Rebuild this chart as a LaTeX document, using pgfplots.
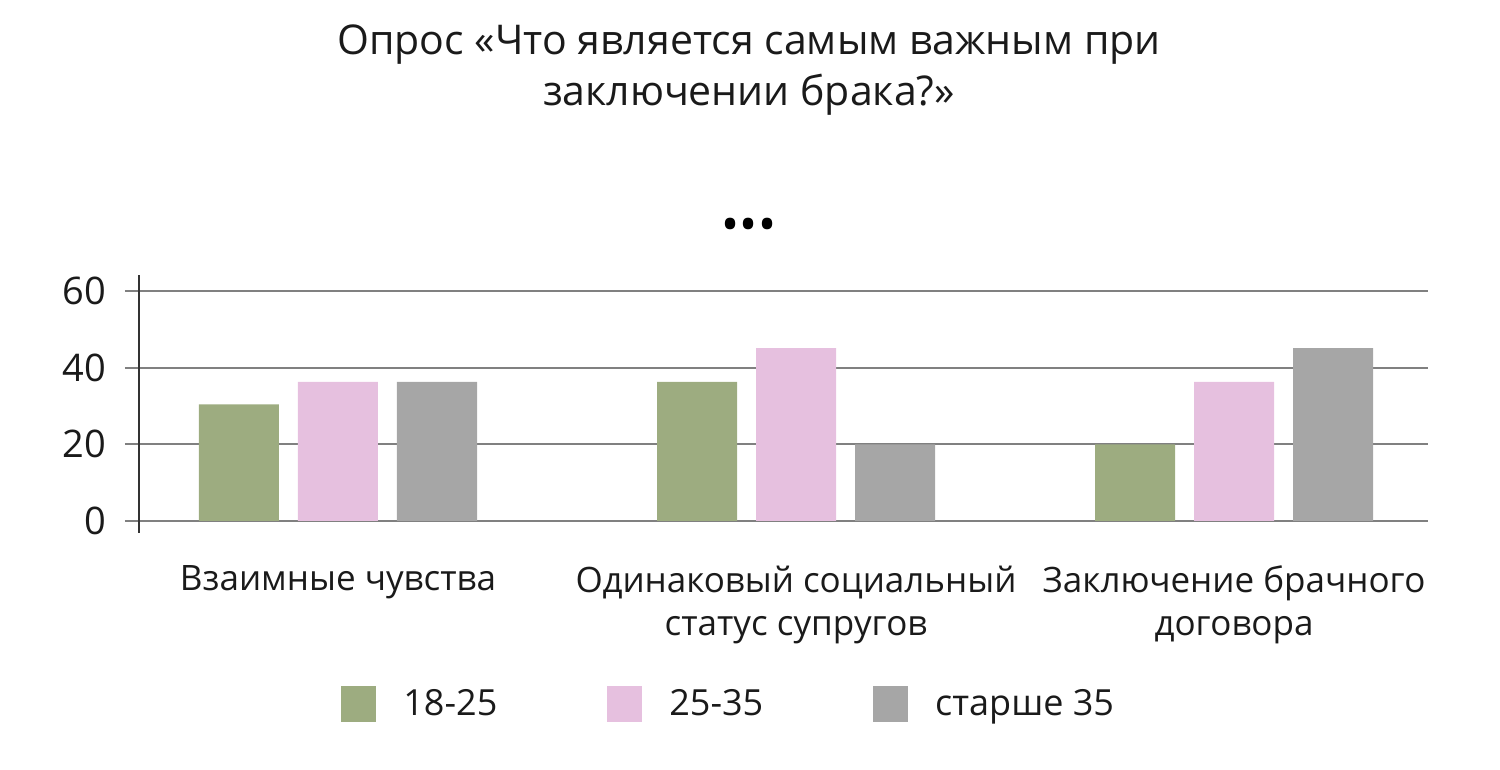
\documentclass[border=0pt]{standalone}
\usepackage{pgfplots}
\pgfplotsset{compat=1.18}
\usepackage{fontspec}
\setmainfont{Open Sans}
\definecolor{cgreen}{HTML}{9DAC80}
\definecolor{cpink}{HTML}{E6C0DF}
\definecolor{cgray}{HTML}{A6A6A6}
\definecolor{cgrid}{HTML}{808080}
\definecolor{ctext}{HTML}{1A1A1A}
\begin{document}
\begin{tikzpicture}
\begin{axis}[
  scale only axis,
  width=644.5pt, height=115pt,
  xmin=139, xmax=1428, ymin=0, ymax=60,
  clip=false,
  axis line style={draw=none},
  xtick={338,796,1234},
  xticklabels={{Взаимные чувства},{Одинаковый социальный\\статус супругов},{Заключение брачного\\договора}},
  xtick style={draw=none},
  xticklabel style={align=center, font=\fontsize{17.5}{21.5}\selectfont, text=ctext, yshift=-12pt},
  ytick={0,20,40,60},
  ytick pos=left,
  tick align=outside,
  major tick length=7pt,
  ytick style={draw=cgrid, line width=1pt},
  ymajorgrids,
  grid style={draw=cgrid, line width=1pt},
  /pgf/number format/assume math mode=true,
  yticklabel style={font=\fontsize{19}{22}\selectfont, text=ctext, xshift=-6pt},
  legend columns=3,
  legend style={at={(axis cs:335,-47.7)}, anchor=west, draw=none, fill=none,
    font=\fontsize{18}{22}\selectfont, text=ctext,
    /tikz/every odd column/.append style={column sep=11.5pt},
    /tikz/every even column/.append style={column sep=53pt}},
  legend image code/.code={\fill[#1] (0pt,-9pt) rectangle (17.5pt,9pt);},
]
\addplot[ybar, bar width=80, bar shift=0pt, fill=cgreen, draw=none] coordinates {(239,30.4) (697,36.3) (1135,20)};
\addlegendentry{18-25}
\addplot[ybar, bar width=80, bar shift=0pt, fill=cpink, draw=none] coordinates {(338,36.3) (796,45.1) (1234,36.3)};
\addlegendentry{25-35}
\addplot[ybar, bar width=80, bar shift=0pt, fill=cgray, draw=none] coordinates {(437,36.3) (895,20) (1333,45.1)};
\addlegendentry{старше 35}
\draw[color=black!80, line width=0.8pt] (axis cs:139,-3.1) -- (axis cs:139,64.2);
\node[text=ctext, font=\fontsize{20.5}{24}\selectfont] at (axis cs:749,124.2) {Опрос «Что является самым важным при};
\node[text=ctext, font=\fontsize{20.5}{24}\selectfont] at (axis cs:749,111.1) {заключении брака?»};
\node[text=black, font=\fontsize{24}{28}\selectfont] at (axis cs:749,76.0) {•••};
\coordinate (bl) at (axis cs:0,-64.96);
\coordinate (tr) at (axis cs:1500,135.9);
\end{axis}
\pgfresetboundingbox
\path[use as bounding box] (bl) rectangle (tr);
\end{tikzpicture}
\end{document}
